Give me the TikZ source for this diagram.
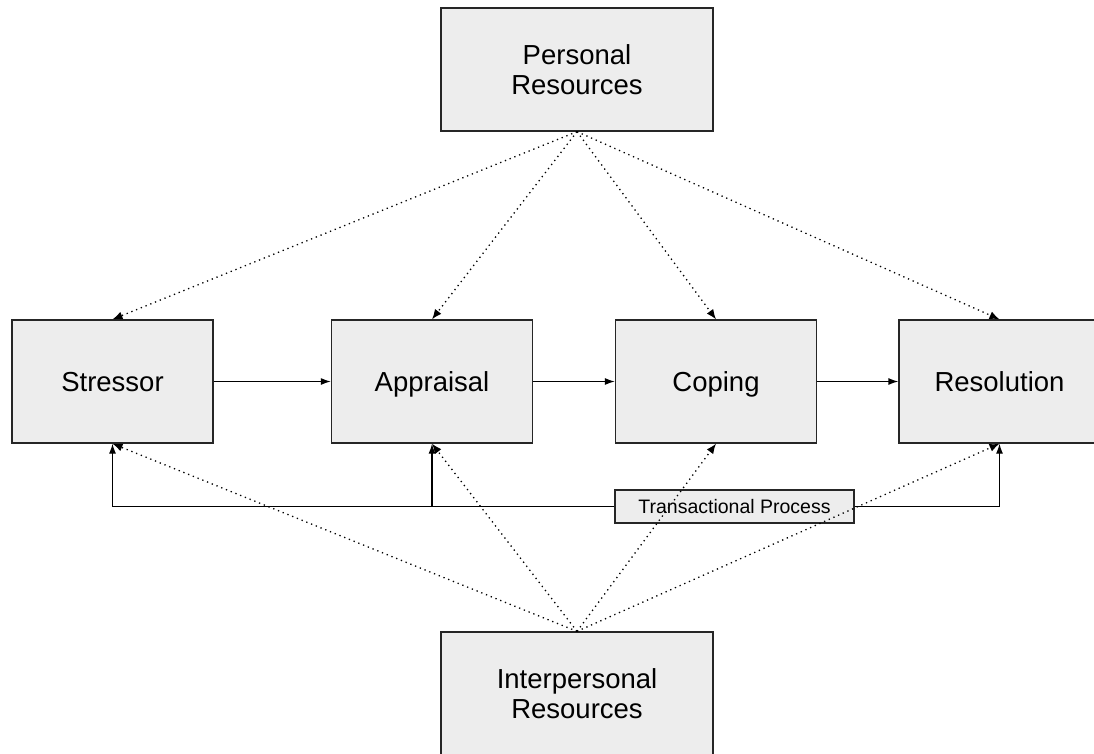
\documentclass[tikz,border=0pt]{standalone}
\usepackage{fontspec}
\setmainfont{Liberation Sans}
\usetikzlibrary{arrows.meta,positioning}

\begin{document}
\begin{tikzpicture}[x=1pt,y=-1pt,
  stage/.style={draw=black!85,line width=1.3pt,fill=black!7,align=center,
    minimum width=201pt,minimum height=123pt,inner sep=0pt,
    text height=20pt,text depth=0pt,
    font=\fontsize{27.5}{30.5}\selectfont},
  resbox/.style={stage,minimum width=272pt,text height=,text depth=},
  tpbox/.style={draw=black!85,line width=1.1pt,fill=black!7,inner sep=0pt,
    minimum width=239pt,minimum height=33pt,font=\fontsize{19.5}{22}\selectfont},
  flowarr/.style={-{Latex[length=10pt,width=7pt]},line width=1.3pt},
  dotarr/.style={-{Latex[length=10pt,width=8pt]},line width=1.3pt,
    dash pattern=on 1.3pt off 3.8pt}]
  \useasboundingbox (0,0) rectangle (1094,753);
  % resources
  \node[resbox] (personal) at (577,69.5) {Personal\\Resources};
  \node[resbox] (interpersonal) at (577,693.5) {Interpersonal\\Resources};
  % stages
  \node[stage] (stressor) at (112.5,381.5) {Stressor};
  \node[stage] (appraisal) at (432,381.5) {Appraisal};
  \node[stage] (coping) at (716,381.5) {Coping};
  \node[stage] (resolution) at (999.5,381.5) {Resolution};
  \draw[flowarr] (stressor) -- (appraisal);
  \draw[flowarr] (appraisal) -- (coping);
  \draw[flowarr] (coping) -- (resolution);
  % feedback
  \node[tpbox] (tp) at (734.5,506.5) {Transactional Process};
  \draw[flowarr] (tp.west) -| (stressor.south);
  \draw[flowarr] (tp.west -| appraisal.south) -- (appraisal.south);
  \draw[flowarr] (tp.east) -| (resolution.south);
  \foreach \s in {stressor,appraisal,coping,resolution} {
    \draw[dotarr] (personal.south) -- (\s.north);
    \draw[dotarr] (interpersonal.north) -- (\s.south);
  }
\end{tikzpicture}
\end{document}
